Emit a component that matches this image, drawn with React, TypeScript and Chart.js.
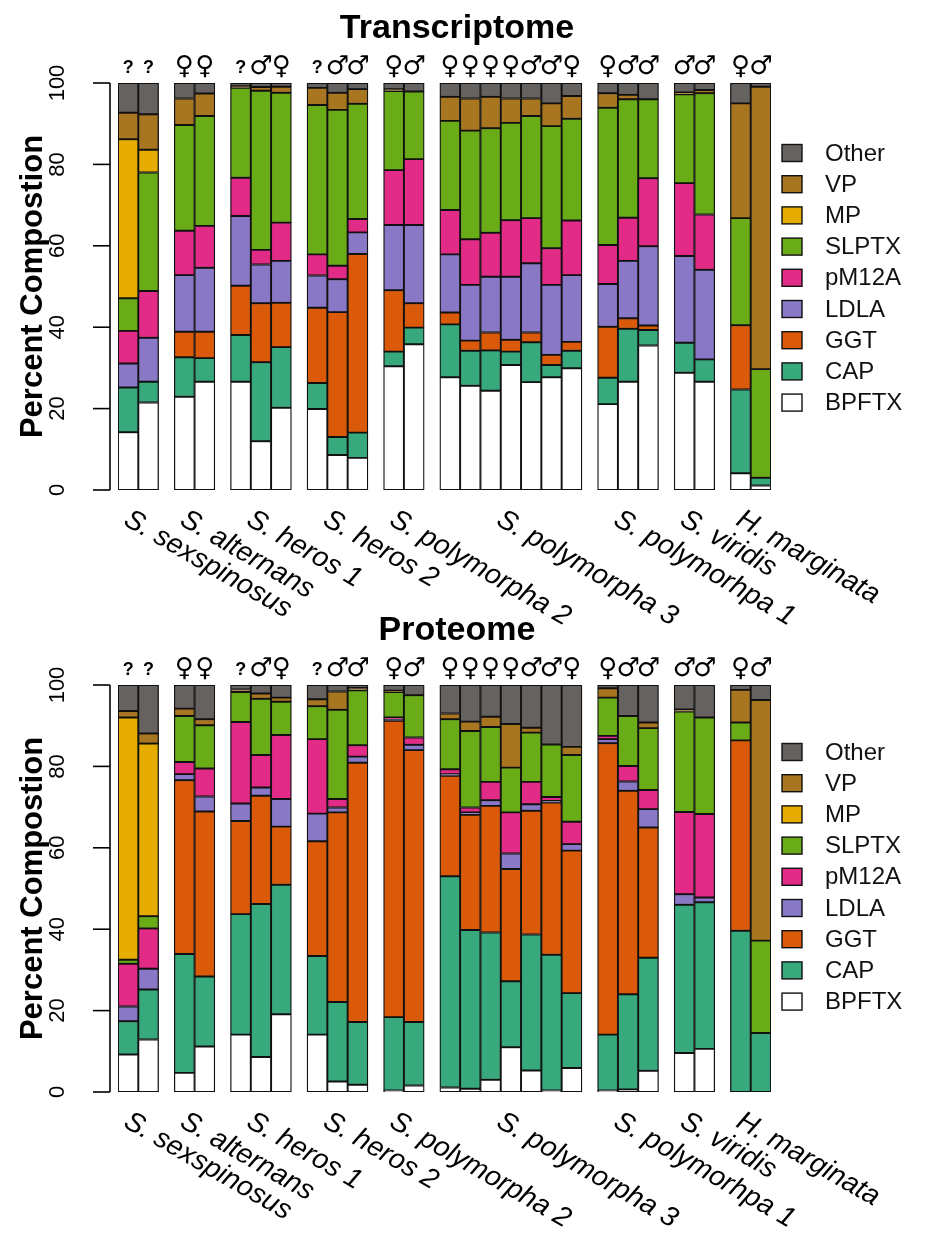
import React, { useEffect, useRef } from "react";
import { Chart, registerables } from "chart.js";

Chart.register(...registerables);

// ---- categories ----
const SERIES = ["BPFTX", "CAP", "GGT", "LDLA", "pM12A", "SLPTX", "MP", "VP", "Other"];
const COLORS = ["#ffffff", "#38a87d", "#da5a0a", "#8878c6", "#e22a87", "#6aab18", "#e6ad00", "#a87620", "#666260"];
const GROUPS = ["S. sexspinosus", "S. alternans", "S. heros 1", "S. heros 2", "S. polymorpha 2", "S. polymorpha 3", "S. polymorhpa 1", "S. viridis", "H. marginata"];
const GROUP_SIZES = [2, 2, 3, 3, 2, 7, 3, 2, 2];
const SEX = ["?", "?", "♀", "♀", "?", "♂", "♀", "?", "♂", "♂", "♀", "♂", "♀", "♀", "♀", "♀", "♂", "♂", "♀", "♀", "♂", "♂", "♂", "♂", "♀", "♂"];
const Y_TICKS = [0, 20, 40, 60, 80, 100];

// ---- Transcriptome values (percent) ----
const T_BPFTX = [14.2, 21.5, 22.9, 26.6, 26.6, 12.0, 20.2, 19.9, 8.6, 7.9, 30.4, 35.8, 27.7, 25.6, 24.4, 30.7, 26.5, 27.7, 29.9, 21.1, 26.6, 35.5, 28.8, 26.6, 4.1, 1.1];
const T_CAP = [11.0, 5.1, 9.7, 5.8, 11.5, 19.4, 14.9, 6.4, 4.4, 6.2, 3.6, 4.1, 13.0, 8.6, 9.9, 3.3, 9.8, 3.0, 4.3, 6.5, 13.0, 3.8, 7.4, 5.5, 20.6, 1.9];
const T_GGT = [0, 0, 6.3, 6.5, 12.1, 14.5, 10.9, 18.5, 30.7, 43.9, 15.1, 6.0, 2.9, 2.5, 4.4, 2.9, 2.4, 2.5, 2.2, 12.5, 2.6, 1.1, 0, 0, 15.8, 0];
const T_LDLA = [5.9, 10.8, 13.9, 15.7, 17.1, 9.5, 10.3, 7.9, 8.1, 5.3, 16.0, 19.2, 14.3, 13.7, 13.7, 15.5, 17.0, 17.2, 16.4, 10.5, 14.1, 19.5, 21.3, 22.0, 0, 0];
const T_PM12A = [8.0, 11.5, 10.9, 10.3, 9.4, 3.6, 9.4, 5.2, 3.3, 3.3, 13.5, 16.2, 10.9, 11.2, 10.8, 13.9, 11.1, 9.0, 13.4, 9.6, 10.6, 16.7, 17.9, 13.6, 0, 0];
const T_SLPTX = [8.0, 29.1, 26.0, 27.0, 22.1, 39.1, 31.9, 36.7, 38.3, 28.3, 19.4, 16.6, 21.9, 26.7, 25.7, 23.9, 25.1, 30.0, 25.0, 33.7, 29.1, 19.4, 21.8, 29.8, 26.3, 26.7];
const T_MP = [39.1, 5.6, 0, 0, 0, 0, 0, 0, 0, 0, 0, 0, 0, 0, 0, 0, 0, 0, 0, 0, 0, 0, 0, 0, 0, 0];
const T_VP = [6.5, 8.7, 6.5, 5.5, 0.4, 0.9, 1.5, 4.2, 4.2, 3.6, 0.5, 0, 5.9, 7.9, 7.7, 6.0, 4.3, 5.6, 5.6, 3.6, 1.1, 0, 0.5, 0.8, 28.2, 69.4];
const T_OTHER = [7.3, 7.7, 3.8, 2.6, 0.8, 1.0, 0.9, 1.2, 2.4, 1.5, 1.5, 2.1, 3.4, 3.8, 3.4, 3.8, 3.8, 5.0, 3.2, 2.5, 2.9, 4.0, 2.3, 1.7, 5.0, 0.9];

// ---- Proteome values (percent) ----
const P_BPFTX = [9.2, 12.9, 4.7, 11.2, 14.1, 8.6, 19.1, 14.1, 2.6, 1.8, 0.4, 1.6, 1.1, 0.8, 3.0, 11.0, 5.3, 0.4, 5.9, 0.4, 0.6, 5.2, 9.6, 10.6, 0, 0];
const P_CAP = [8.2, 12.3, 29.2, 17.2, 29.6, 37.6, 31.8, 19.3, 19.5, 15.4, 18.0, 15.6, 51.9, 39.0, 36.2, 16.2, 33.4, 33.3, 18.4, 13.7, 23.4, 27.8, 36.4, 36.0, 39.6, 14.5];
const P_GGT = [0, 0, 42.7, 40.5, 22.9, 26.6, 14.3, 28.2, 46.6, 63.7, 72.8, 66.8, 24.7, 28.3, 31.1, 27.6, 30.4, 37.4, 35.0, 71.6, 50.0, 32.0, 0, 0, 46.8, 0];
const P_LDLA = [3.6, 5.1, 1.5, 3.7, 4.3, 2.0, 6.8, 6.8, 1.2, 1.5, 0.4, 1.3, 0.4, 0.6, 1.4, 3.8, 1.6, 0.4, 1.6, 1.0, 2.3, 4.5, 2.6, 1.2, 0, 0];
const P_PM12A = [10.5, 9.9, 3.0, 6.9, 20.0, 8.0, 15.7, 18.3, 2.1, 2.8, 0.4, 1.8, 1.2, 1.2, 4.5, 10.1, 5.5, 1.0, 5.5, 0.8, 3.8, 4.7, 20.2, 20.5, 0, 0];
const P_SLPTX = [1.0, 3.0, 11.3, 10.6, 7.4, 13.8, 8.2, 8.1, 21.9, 13.5, 6.3, 10.4, 12.3, 18.8, 13.5, 11.0, 12.1, 12.9, 16.4, 9.4, 12.3, 15.2, 24.7, 23.7, 4.4, 22.7];
const P_MP = [59.5, 42.4, 0, 0, 0, 0, 0, 0, 0, 0, 0, 0, 0, 0, 0, 0, 0, 0, 0, 0, 0, 0, 0, 0, 0, 0];
const P_VP = [1.6, 2.5, 1.8, 1.5, 0.6, 1.3, 1.0, 1.7, 4.5, 0.6, 0.3, 0, 1.4, 2.3, 2.5, 10.7, 1.2, 0, 2.0, 2.3, 0, 1.4, 0.5, 0, 8.0, 59.1];
const P_OTHER = [6.4, 11.9, 5.8, 8.4, 1.1, 2.1, 3.1, 3.5, 1.6, 0.7, 1.4, 2.5, 7.0, 9.0, 7.8, 9.6, 10.5, 14.6, 15.2, 0.8, 7.6, 9.2, 6.0, 8.0, 1.2, 3.7];

const T_DATA = [T_BPFTX, T_CAP, T_GGT, T_LDLA, T_PM12A, T_SLPTX, T_MP, T_VP, T_OTHER];
const P_DATA = [P_BPFTX, P_CAP, P_GGT, P_LDLA, P_PM12A, P_SLPTX, P_MP, P_VP, P_OTHER];

// ---- layout ----
const GAP = 0.77; // space between groups, in bar widths
const W = 928;
const FONT = '"Liberation Sans", Arimo, Arial, sans-serif';

function barPositions(): number[] {
  const out: number[] = [];
  let p = 0;
  GROUP_SIZES.forEach((n) => {
    for (let k = 0; k < n; k++) {
      out.push(p);
      p += 1;
    }
    p += GAP;
  });
  return out;
}

function makeDecor(title: string, pos: number[], legendOffset: number) {
  return {
    id: "decor",
    afterDraw(chart: any) {
      const { ctx, chartArea, scales } = chart;
      const x = scales.x;
      const y = scales.y;
      ctx.save();
      ctx.fillStyle = "#000";
      ctx.strokeStyle = "#000";

      // title
      ctx.font = `bold 34px ${FONT}`;
      ctx.textAlign = "center";
      ctx.textBaseline = "middle";
      ctx.fillText(title, 457, 29);

      // y title
      ctx.save();
      ctx.translate(33, (chartArea.top + chartArea.bottom) / 2);
      ctx.rotate(-Math.PI / 2);
      ctx.font = `bold 31px ${FONT}`;
      ctx.fillText("Percent Compostion", 0, 0);
      ctx.restore();

      // y axis
      const ax = 110;
      ctx.lineWidth = 1.6;
      ctx.beginPath();
      ctx.moveTo(ax, y.getPixelForValue(0));
      ctx.lineTo(ax, y.getPixelForValue(100));
      ctx.stroke();
      ctx.font = `22px ${FONT}`;
      Y_TICKS.forEach((t) => {
        const py = y.getPixelForValue(t);
        ctx.beginPath();
        ctx.moveTo(93, py);
        ctx.lineTo(ax, py);
        ctx.stroke();
        ctx.save();
        ctx.translate(58, py);
        ctx.rotate(-Math.PI / 2);
        ctx.textAlign = "center";
        ctx.textBaseline = "middle";
        ctx.fillText(String(t), 0, 0);
        ctx.restore();
      });

      // sex symbols above bars
      ctx.textAlign = "center";
      ctx.textBaseline = "middle";
      SEX.forEach((s, i) => {
        const px = x.getPixelForValue(pos[i]);
        if (s === "?") {
          ctx.font = `bold 18px ${FONT}`;
          ctx.fillText(s, px, chartArea.top - 15);
        } else {
          ctx.font = `26px "DejaVu Sans", sans-serif`;
          ctx.fillText(s, px, chartArea.top - 16);
        }
      });

      // group labels, rotated
      ctx.font = `italic 28px ${FONT}`;
      ctx.textAlign = "left";
      ctx.textBaseline = "alphabetic";
      let idx = 0;
      GROUPS.forEach((g, gi) => {
        const first = idx;
        const last = idx + GROUP_SIZES[gi] - 1;
        idx += GROUP_SIZES[gi];
        const cx = (x.getPixelForValue(pos[first]) + x.getPixelForValue(pos[last])) / 2;
        ctx.save();
        ctx.translate(cx - 16, chartArea.bottom + 34);
        ctx.rotate(Math.PI / 6);
        ctx.fillText(g, 0, 0);
        ctx.restore();
      });

      // legend (top to bottom: Other ... BPFTX)
      ctx.font = `24px ${FONT}`;
      ctx.textBaseline = "middle";
      ctx.lineWidth = 1.4;
      for (let r = 0; r < SERIES.length; r++) {
        const k = SERIES.length - 1 - r;
        const cy = chartArea.top + legendOffset + r * 31.2;
        ctx.fillStyle = COLORS[k];
        ctx.fillRect(782, cy - 8.5, 20, 17);
        ctx.strokeStyle = "#111";
        ctx.strokeRect(782, cy - 8.5, 20, 17);
        ctx.fillStyle = "#111";
        ctx.fillText(SERIES[k], 825, cy + 1);
      }
      ctx.restore();
    },
  };
}

function Panel({ title, data, top, height, legendOffset }: { title: string; data: number[][]; top: number; height: number; legendOffset: number }) {
  const ref = useRef<HTMLCanvasElement | null>(null);
  useEffect(() => {
    const pos = barPositions();
    const chart = new Chart(ref.current as HTMLCanvasElement, {
      type: "bar",
      data: {
        datasets: SERIES.map((name, k) => ({
          label: name,
          data: data[k].map((v, i) => ({ x: pos[i], y: v })),
          backgroundColor: COLORS[k],
          borderColor: "#111",
          borderWidth: 1.3,
          borderSkipped: false,
          barPercentage: 1,
          categoryPercentage: 1,
        })),
      } as any,
      options: {
        responsive: false,
        animation: false,
        events: [],
        layout: { padding: { left: 118, right: W - 771, top: 83, bottom: height - 490 } },
        plugins: { legend: { display: false }, title: { display: false }, tooltip: { enabled: false } },
        scales: {
          x: {
            type: "linear",
            min: -0.5,
            max: pos[pos.length - 1] + 0.5,
            offset: false,
            stacked: true,
            display: false,
            ticks: { stepSize: 10, includeBounds: false },
          },
          y: { min: 0, max: 100, stacked: true, display: false },
        },
      } as any,
      plugins: [makeDecor(title, pos, legendOffset)],
    });
    return () => chart.destroy();
  }, []);
  return (
    <canvas
      ref={ref}
      width={W}
      height={height}
      style={{ position: "absolute", left: 0, top, width: W, height }}
    />
  );
}

export default function App() {
  return (
    <div style={{ position: "absolute", left: 0, top: 0, width: W, height: 1237, background: "#fff" }}>
      <Panel title="Transcriptome" data={T_DATA} top={0} height={640} legendOffset={70} />
      <Panel title="Proteome" data={P_DATA} top={602} height={635} legendOffset={67} />
    </div>
  );
}
